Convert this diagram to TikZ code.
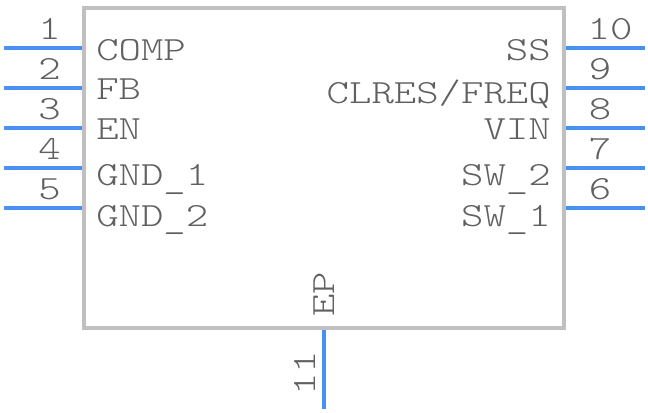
\documentclass[tikz,border=0pt]{standalone}
\usepackage{fontspec}
\setmainfont[FakeStretch=1.26]{Latin Modern Mono Light}
\definecolor{pin}{HTML}{4A90F0}
\definecolor{body}{HTML}{C0C0C0}
\definecolor{txt}{HTML}{606060}
\newcommand{\lowbar}{\raisebox{-2pt}{\_}}
\tikzset{
  x=0.75pt,y=-0.75pt,
  pinline/.style={draw=pin,line width=3pt},
  bodybox/.style={draw=body,line width=3pt,outer sep=0pt,minimum width=360pt,minimum height=240pt,inner sep=0pt,anchor=north west},
  lab/.style={text=txt,font=\fontsize{25.4pt}{25.4pt}\selectfont,inner sep=0pt}
}
\begin{document}
\begin{tikzpicture}
\useasboundingbox (0,0) rectangle (648,412);
\foreach \n/\y in {1/48,2/88,3/128,4/168,5/208}{
  \coordinate (L\n) at (4,\y);
  \coordinate (LE\n) at (84,\y);
  \draw[pinline] (L\n) -- (LE\n);
  \node[lab,anchor=base] (LN\n) at (49.5,\y-8.5) {\n};
}
\foreach \n/\y in {10/48,9/88,8/128,7/168,6/208}{
  \coordinate (R\n) at (645,\y);
  \coordinate (RE\n) at (564,\y);
  \draw[pinline] (RE\n) -- (R\n);
  \node[lab,anchor=base] (RN\n) at (\ifnum\n=10 610\else 600\fi,\y-8.5) {\n};
}
\coordinate (P11) at (324,328);
\coordinate (Q11) at (324,409);
\draw[pinline] (P11) -- (Q11);
\node[bodybox] (B) at (84,8.3) {};
\node[lab,anchor=base west] (t1) at (96,60) {COMP};
\node[lab,anchor=base west] (t2) at (96,99) {FB};
\node[lab,anchor=base west] (t3) at (96,139) {EN};
\node[lab,anchor=base west] (t4) at (96,185.5) {GND\lowbar 1};
\node[lab,anchor=base west] (t5) at (96,226) {GND\lowbar 2};
\node[lab,anchor=base east] (t10) at (551,60) {SS};
\node[lab,anchor=base east] (t9) at (551,103) {CLRES/FREQ};
\node[lab,anchor=base east] (t8) at (551,139) {VIN};
\node[lab,anchor=base east] (t7) at (551,185.5) {SW\lowbar 2};
\node[lab,anchor=base east] (t6) at (551,226) {SW\lowbar 1};
\node[lab,rotate=90,anchor=base] (n11) at (315,373) {11};
\node[lab,rotate=90,anchor=base] (ep) at (334,294) {EP};
\end{tikzpicture}
\end{document}
